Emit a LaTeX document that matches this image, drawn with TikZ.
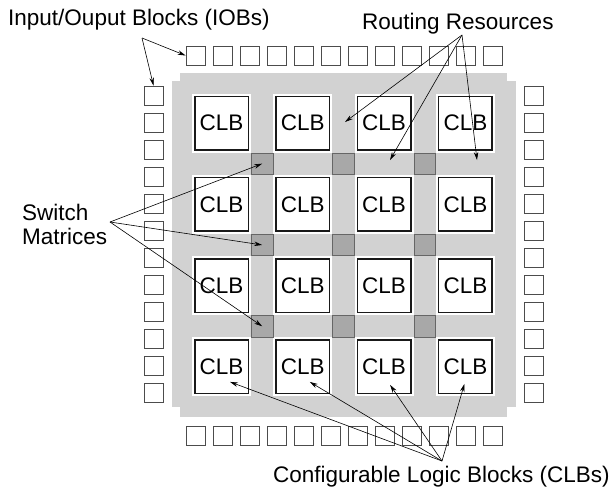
\documentclass[tikz,border=0pt]{standalone}
\usepackage{fontspec}
\setmainfont{Liberation Sans}
\usetikzlibrary{arrows.meta, calc}
\definecolor{chipgray}{RGB}{210,210,210}
\definecolor{swgray}{RGB}{168,168,168}

\begin{document}
\begin{tikzpicture}[>={Stealth[length=8pt,width=4.5pt]},x=1pt,y=-1pt]
                \tikzstyle{every node}=[font=\fontsize{22.5}{24}\selectfont,inner sep=0pt]
                \tikzstyle{clb}=[draw=black!90,line width=1.5pt,fill=white,minimum size=53.5pt,
                                 preaction={draw=white,line width=5.5pt}]
                \tikzstyle{switch}=[draw=black!60,line width=0.8pt,fill=swgray,minimum size=21.5pt]
                \tikzstyle{iob}=[draw=black!70,line width=0.8pt,fill=white,minimum size=19pt]
                \tikzstyle{pointer}=[->,line width=0.6pt,black]
                \useasboundingbox (0,0) rectangle (615,488);

                % chip area
                \fill[chipgray] (172,81) rectangle (516,407);
                \fill[chipgray] (180,73) rectangle (507,417);

                \foreach \i in {1,...,4}
                    \foreach \j in {1,...,4}
                        \node[clb] (c-\i-\j) at ({221.5+81.3*(\i-1)},{123+81.3*(\j-1)}) {CLB};

                \foreach \i in {1,...,3}
                    \foreach \j in {1,...,3}
                        \node[switch] (s-\i-\j) at ({262.15+81.3*(\i-1)},{163.65+81.3*(\j-1)}) {};

                \foreach \k in {1,...,12} {
                    \node[iob] (t-\k) at ({195.5+27*(\k-1)},55.5) {};
                    \node[iob] (b-\k) at ({195.5+27*(\k-1)},435.5) {};
                    \node[iob] (l-\k) at (153.5,{95.5+27*(\k-1)}) {};
                    \node[iob] (r-\k) at (534,{95.5+27*(\k-1)}) {};
                }

                % labels
                \node[anchor=base west]             (iobs)  at (8,25)     {Input/Ouput Blocks (IOBs)};
                \node[anchor=base west]             (rr)    at (362,29.5) {Routing Resources};
                \node[anchor=north west,align=left] (sm)    at (22,204)   {Switch\\Matrices};
                \node[anchor=base west]             (clbs)  at (273,482)  {Configurable Logic Blocks (CLBs)};

                \coordinate (iobs-fan) at (142,38);
                \coordinate (rr-fan)   at (462,35);
                \coordinate (sm-fan)   at (110,222);
                \coordinate (clbs-fan) at (442,461);
                \coordinate (rr-1) at (345,122);
                \coordinate (rr-2) at (390,160);
                \coordinate (rr-3) at (477,160);

                \draw[pointer] (iobs-fan) -- (t-1.west);
                \draw[pointer] (iobs-fan) -- (l-1.north);
                \draw[pointer] (rr-fan) -- (rr-1);
                \draw[pointer] (rr-fan) -- (rr-2);
                \draw[pointer] (rr-fan) -- (rr-3);
                \draw[pointer] (sm-fan) -- (s-1-1.center);
                \draw[pointer] (sm-fan) -- (s-1-2.center);
                \draw[pointer] (sm-fan) -- (s-1-3.center);
                \draw[pointer] (clbs-fan) -- ($(c-1-4)+(8.5,15)$);
                \draw[pointer] (clbs-fan) -- ($(c-2-4)+(7,15)$);
                \draw[pointer] (clbs-fan) -- ($(c-3-4)+(6,18)$);
                \draw[pointer] (clbs-fan) -- ($(c-4-4)+(-1,17)$);
            \end{tikzpicture}
\end{document}
